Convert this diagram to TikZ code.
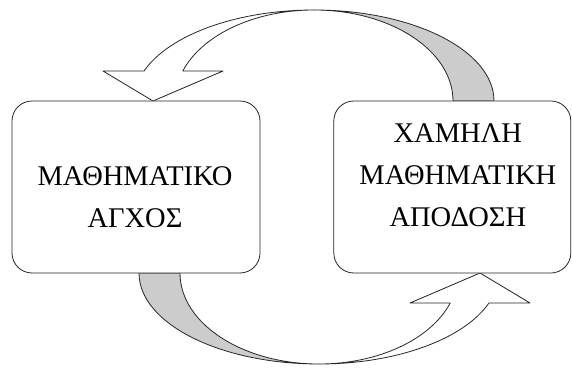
\documentclass[tikz,border=0pt]{standalone}
\usepackage{fontspec}
\setmainfont{Liberation Serif}
\usetikzlibrary{positioning}

\begin{document}
\begin{tikzpicture}[x=1pt, y=1pt, line join=round,
      box/.style={draw=black!85, fill=white, rounded corners=20pt,
                  line width=0.8pt, minimum height=172pt, inner sep=0pt},
      txt/.style={align=center, font=\fontsize{28.5}{42}\selectfont},
      front/.style={draw=black!85, fill=white, line width=0.8pt},
      back/.style={draw=black!85, fill=black!20, line width=0.8pt}
    ]
    \useasboundingbox (0,0) rectangle (572,367);

    % the two curved block arrows (bottom one is the top one turned round)
    \foreach \r in {0,180}{
      \begin{scope}[rotate around={\r:(316.5,180)}]
        \draw[back] (494,266)
          arc[start angle=0, end angle=90, x radius=180, y radius=91]
          arc[start angle=90, end angle=0, x radius=139, y radius=91] -- cycle;
        \draw[front] (314,357)
          arc[start angle=90, end angle=160.75, x radius=180, y radius=91]
          -- (103,296) -- (153,266) -- (223,296) -- (182.8,296)
          arc[start angle=160.75, end angle=90, x radius=139, y radius=91]
          -- cycle;
      \end{scope}
    }

    \node[box, minimum width=248pt] (anx) at (136,180) {};
    \node[box, minimum width=237pt, right=73pt of anx] (perf) {};

    \node[txt] (anxtxt) at ([xshift=-1pt, yshift=-10pt]anx.center)
          {ΜΑΘΗΜΑΤΙΚΟ\\ΑΓΧΟΣ};
    \node[txt] (perftxt) at ([xshift=5.5pt, yshift=12pt]perf.center)
          {ΧΑΜΗΛΗ\\ΜΑΘΗΜΑΤΙΚΗ\\ΑΠΟΔΟΣΗ};
  \end{tikzpicture}
\end{document}
